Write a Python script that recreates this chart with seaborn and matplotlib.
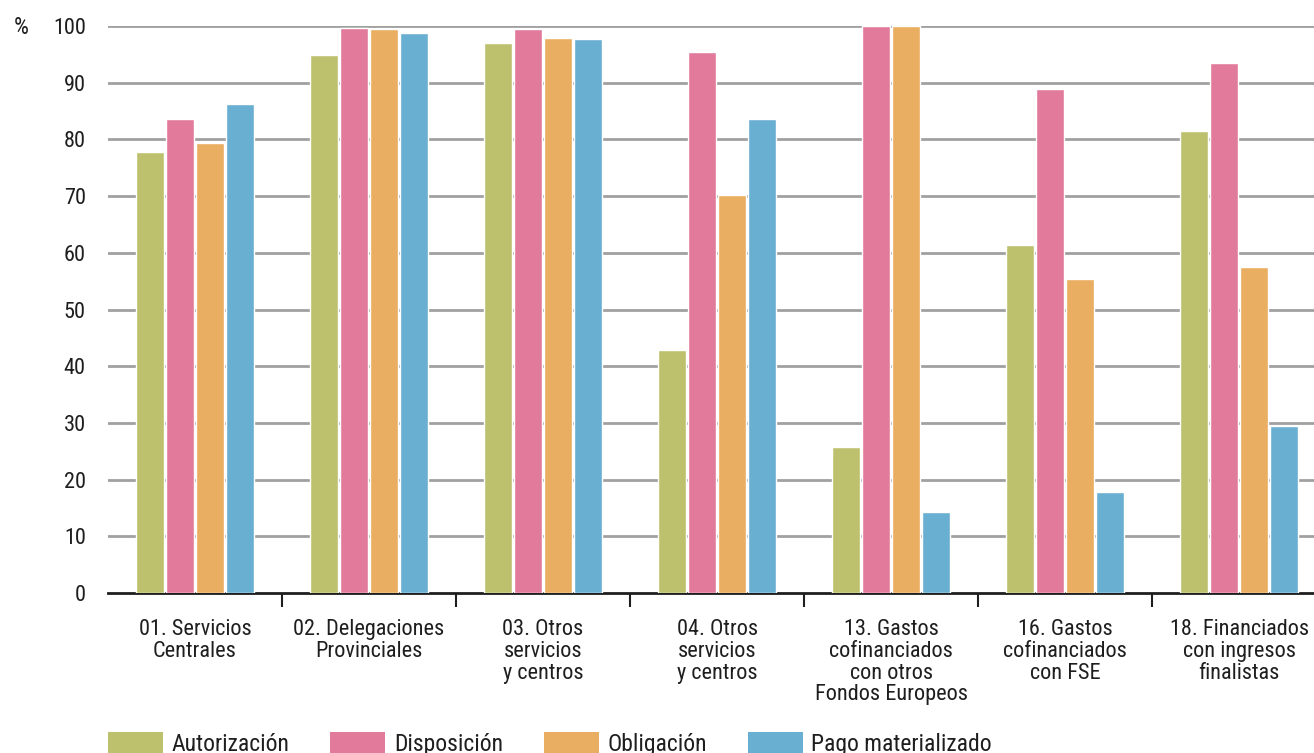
import matplotlib
matplotlib.use("Agg")
import matplotlib.pyplot as plt
import seaborn as sns
import pandas as pd
from matplotlib.font_manager import fontManager
from matplotlib.patches import Patch

categories = [
    "01. Servicios\nCentrales",
    "02. Delegaciones\nProvinciales",
    "03. Otros\nservicios\ny centros",
    "04. Otros\nservicios\ny centros",
    "13. Gastos\ncofinanciados\ncon otros\nFondos Europeos",
    "16. Gastos\ncofinanciados\ncon FSE",
    "18. Financiados\ncon ingresos\nfinalistas",
]
series = ["Autorización", "Disposición", "Obligación", "Pago materializado"]
autorizacion = [77.8, 94.9, 97.0, 42.9, 25.7, 61.4, 81.5]
disposicion = [83.6, 99.6, 99.5, 95.4, 100.0, 88.9, 93.5]
obligacion = [79.4, 99.5, 97.9, 70.2, 100.0, 55.4, 57.5]
pago = [86.2, 98.8, 97.7, 83.6, 14.3, 17.8, 29.5]
colors = ["#BDC16D", "#E27A9B", "#E9AE62", "#69AFD2"]

rows = []
for vals, s in zip([autorizacion, disposicion, obligacion, pago], series):
    for c, v in zip(categories, vals):
        rows.append({"cat": c, "serie": s, "val": v})
df = pd.DataFrame(rows)

sns.set_theme(style="white")

# pick a condensed face if one is installed
fam = "DejaVu Sans"
stretch = "normal"
cands = []
for f in fontManager.ttflist:
    st = str(f.stretch)
    if ("Narrow" in f.name or "Condensed" in f.name) and f.weight in (400, "normal", "regular"):
        cands.append((0, f.name, "normal"))
    elif st in ("condensed", "semi-condensed", "625", "750", "semi-expanded") or (st.isdigit() and int(st) < 500 and f.style == "normal"):
        cands.append((1, f.name, "condensed"))
pref = ["Roboto Condensed", "Liberation Sans Narrow", "Open Sans Condensed", "DejaVu Sans", "Roboto", "Open Sans", "Noto Sans"]
cands.sort(key=lambda t: (t[0], pref.index(t[1]) if t[1] in pref else 99))
if cands:
    fam, stretch = cands[0][1], cands[0][2]
plt.rcParams["font.family"] = [fam, "DejaVu Sans"]
plt.rcParams["font.stretch"] = stretch
txtc = "#1e1e1e"

fig = plt.figure(figsize=(13.14, 7.53), dpi=100)
ax = fig.add_axes([108/1314, 1-593/753, (1314-108)/1314, (593-26)/753])

sns.barplot(data=df, x="cat", y="val", hue="serie", order=categories,
            hue_order=series, palette=colors, width=0.69, gap=0.08,
            saturation=1, ax=ax, legend=False, zorder=3)

ax.set_ylim(0, 100)
ax.set_xlim(-0.5, 6.43)
ax.set_yticks(range(0, 101, 10))
ax.set_yticklabels([str(v) for v in range(0, 101, 10)], fontsize=16, color=txtc)
for y in range(10, 101, 10):
    ax.axhline(y, color="#A0A0A0", lw=2, zorder=1)

ax.set_xticks([i + 0.5 for i in range(6)])
ax.set_xticklabels([])
ax.tick_params(axis="x", direction="out", length=10, width=1.5, color=txtc, bottom=True)
ax.tick_params(axis="y", length=0, pad=16)
for i, c in enumerate(categories):
    ax.text(i, -4.6, c, ha="center", va="top", fontsize=16, color=txtc,
            linespacing=1.05, clip_on=False)

for s in ["top", "right", "left"]:
    ax.spines[s].set_visible(False)
ax.spines["bottom"].set_color(txtc)
ax.spines["bottom"].set_linewidth(2)
ax.set_xlabel("")
ax.set_ylabel("")

fig.text(14/1314, 1-28/753, "%", fontsize=17, color=txtc, va="center", ha="left")

handles = [Patch(facecolor=c, edgecolor="none") for c in colors]
fig.legend(handles, series, loc="center left", bbox_to_anchor=(108/1314, 1-744/753),
           ncol=4, frameon=False, fontsize=17, handlelength=2.33, handleheight=0.95,
           columnspacing=1.75, handletextpad=0.35, borderpad=0, borderaxespad=0,
           labelcolor=txtc)

fig.savefig("out.png", dpi=100)
